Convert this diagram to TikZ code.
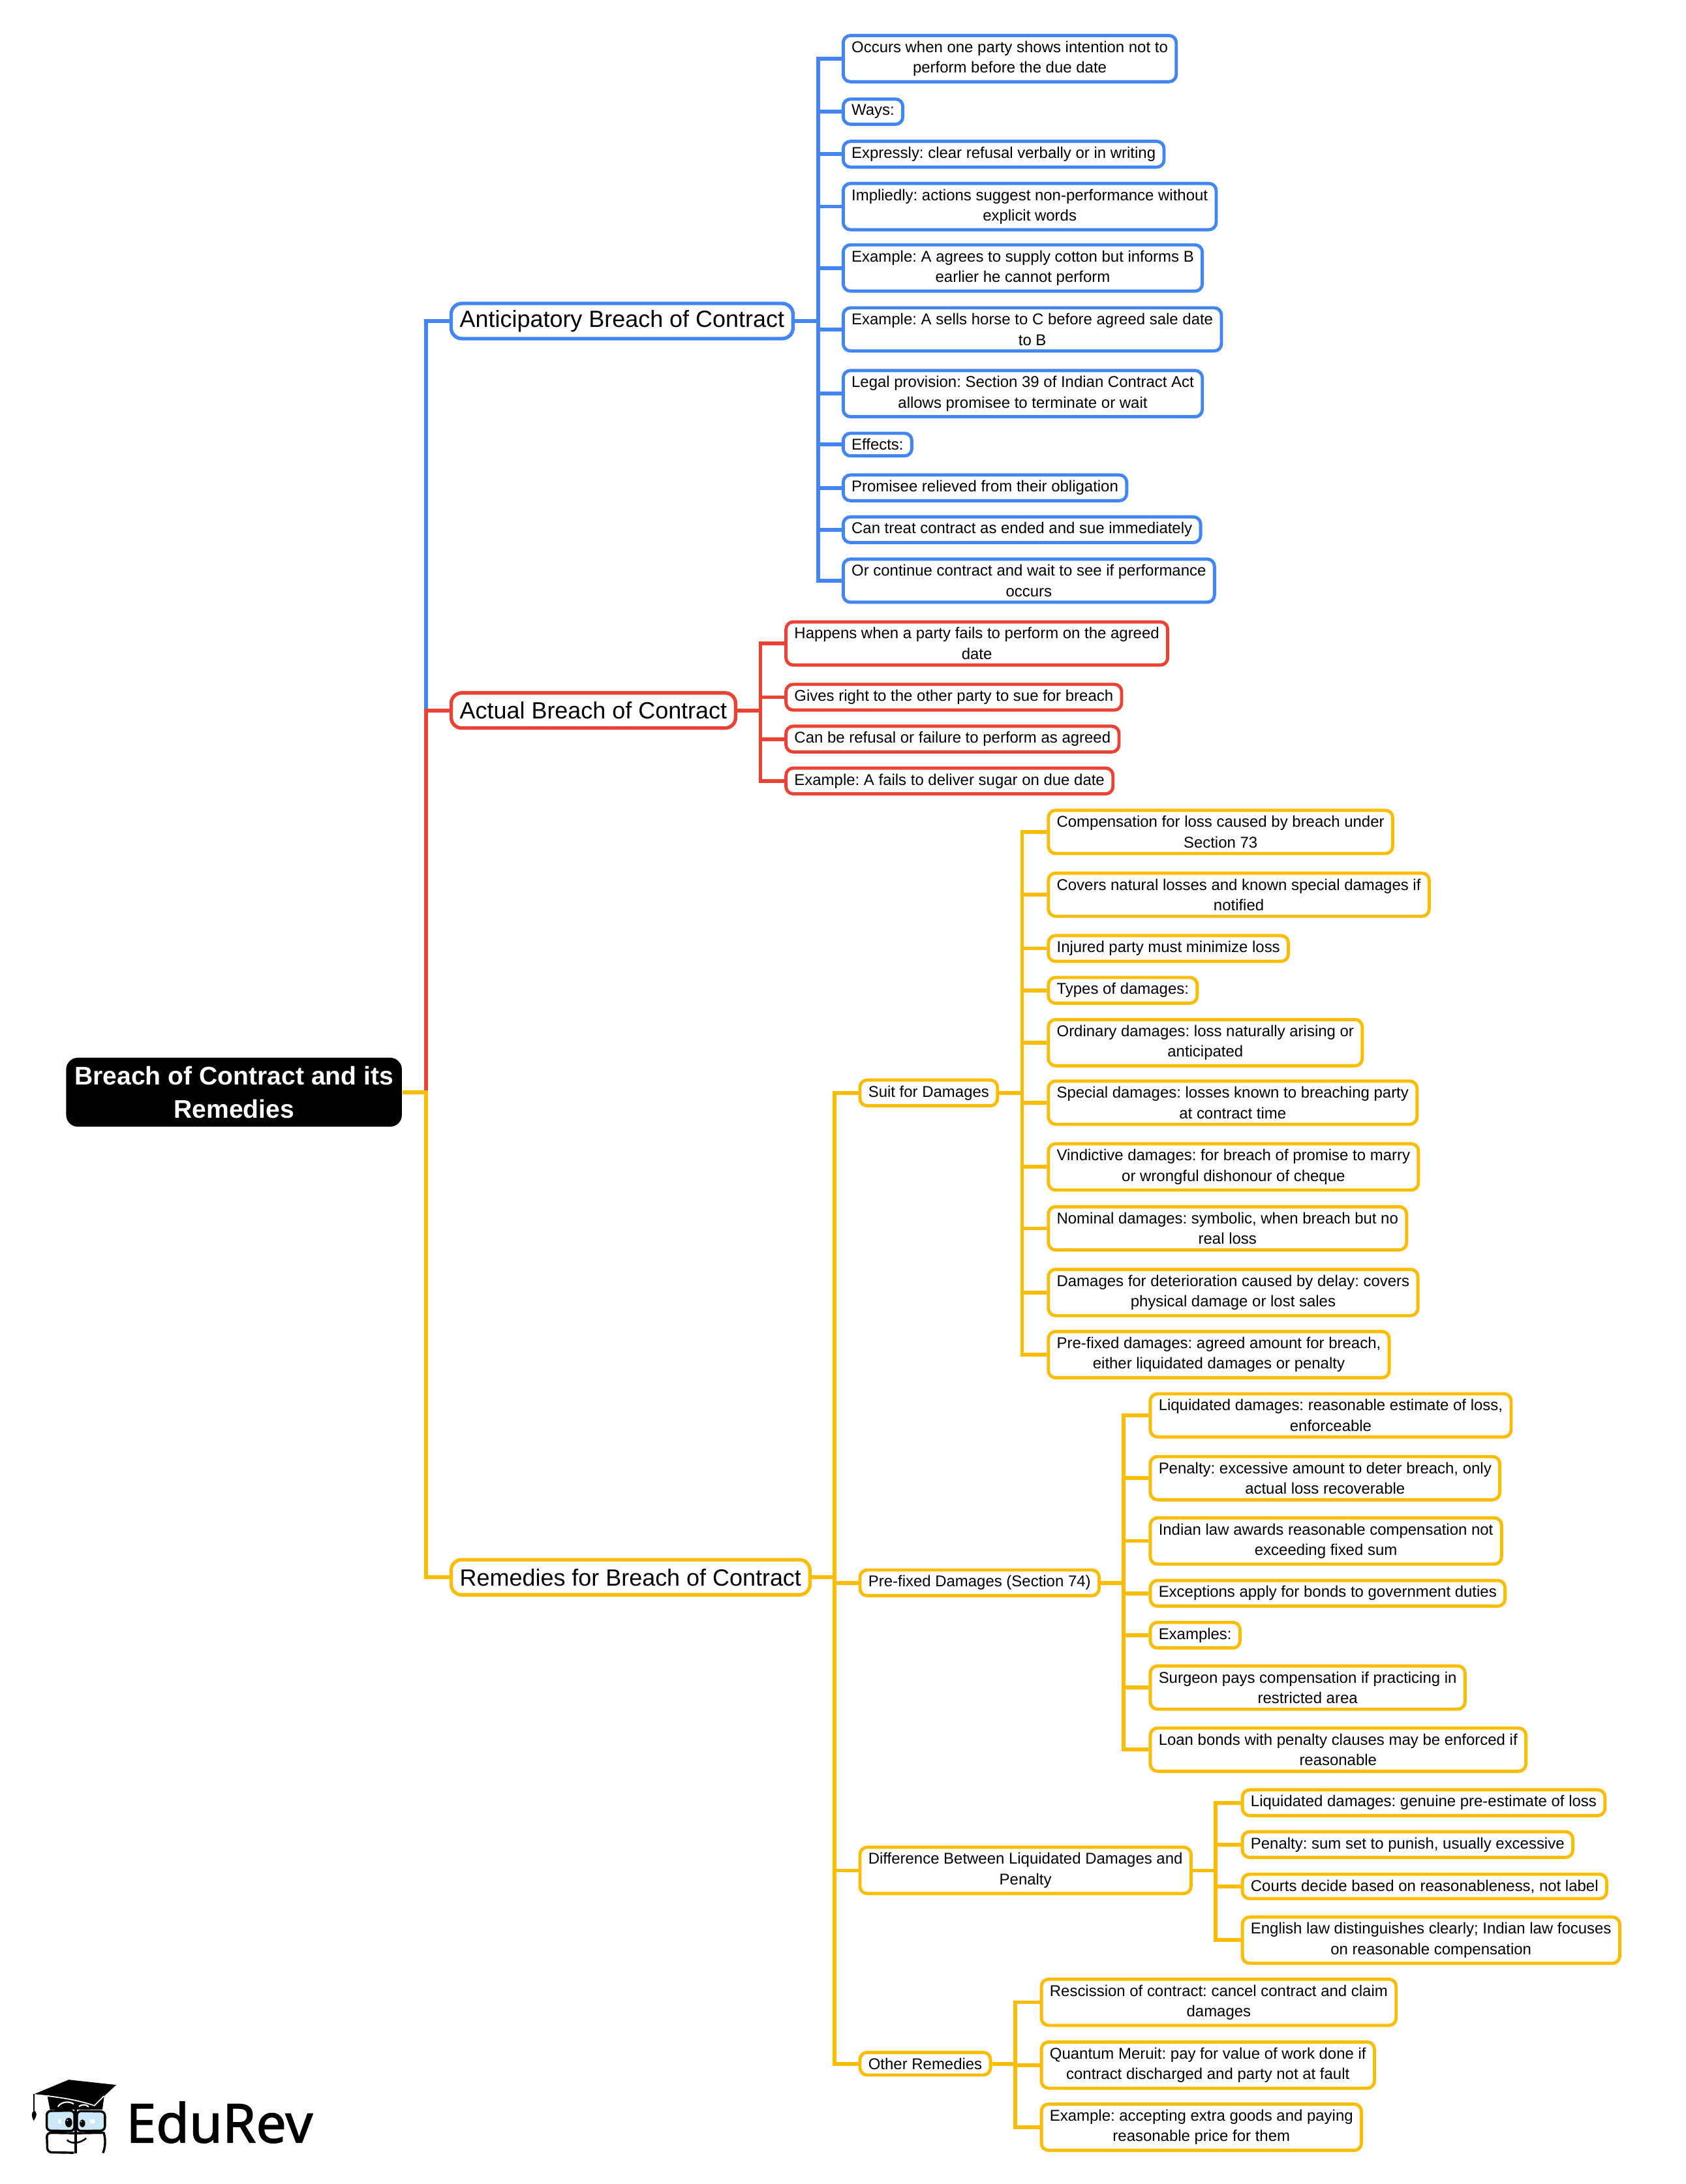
\documentclass[tikz,border=0pt]{standalone}
\usepackage{fontspec}
\setmainfont{Liberation Sans}
\newfontfamily\logofont[FakeBold=1.6]{Noto Sans}
\definecolor{mapblue}{HTML}{4285F4}
\definecolor{mapred}{HTML}{EA4335}
\definecolor{mapyellow}{HTML}{FBBC04}
\definecolor{lenscolor}{HTML}{CDE8F8}
\tikzset{
  rootbox/.style={fill=black,text=white,rounded corners=4.2pt,anchor=west,align=center,inner xsep=3pt,inner ysep=3pt,
    font=\fontsize{9.14pt}{12pt}\selectfont\bfseries\frenchspacing},
  midbox/.style={draw=#1,line width=1.25pt,fill=white,rounded corners=3.8pt,anchor=west,inner xsep=3.1pt,inner ysep=1pt,minimum height=12.6pt,
    font=\fontsize{8.4pt}{10pt}\selectfont\frenchspacing},
  leafbox/.style={draw=#1,line width=1.15pt,fill=white,rounded corners=2.6pt,anchor=west,align=center,inner xsep=3pt,inner ysep=2pt,
    font=\fontsize{5.6pt}{7.35pt}\selectfont\frenchspacing},
  maplink/.style={draw=#1,line width=1.35pt}
}
\begin{document}
\begin{tikzpicture}[x=0.5pt,y=-0.5pt]
\useasboundingbox (0,0) rectangle (1208,1564.7);
\node[rootbox] (root) at (47,782.5) {Breach of Contract and its\\Remedies};
\node[midbox=mapblue] (anticip) at (322,230) {Anticipatory Breach of Contract};
\node[midbox=mapred] (actual) at (322,509) {Actual Breach of Contract};
\node[midbox=mapyellow] (remedies) at (322,1130) {Remedies for Breach of Contract};
\node[leafbox=mapblue] (a1) at (603,42) {Occurs when one party shows intention not to\\perform before the due date};
\node[leafbox=mapblue] (a2) at (603,80) {Ways:};
\node[leafbox=mapblue] (a3) at (603,110.5) {Expressly: clear refusal verbally or in writing};
\node[leafbox=mapblue] (a4) at (603,148) {Impliedly: actions suggest non-performance without\\explicit words};
\node[leafbox=mapblue] (a5) at (603,192) {Example: A agrees to supply cotton but informs B\\earlier he cannot perform};
\node[leafbox=mapblue] (a6) at (603,236) {Example: A sells horse to C before agreed sale date\\to B};
\node[leafbox=mapblue] (a7) at (603,282) {Legal provision: Section 39 of Indian Contract Act\\allows promisee to terminate or wait};
\node[leafbox=mapblue] (a8) at (603,318.5) {Effects:};
\node[leafbox=mapblue] (a9) at (603,349.5) {Promisee relieved from their obligation};
\node[leafbox=mapblue] (a10) at (603,379.5) {Can treat contract as ended and sue immediately};
\node[leafbox=mapblue] (a11) at (603,416) {Or continue contract and wait to see if performance\\occurs};
\node[leafbox=mapred] (b1) at (562,461) {Happens when a party fails to perform on the agreed\\date};
\node[leafbox=mapred] (b2) at (562,499.5) {Gives right to the other party to sue for breach};
\node[leafbox=mapred] (b3) at (562,529.5) {Can be refusal or failure to perform as agreed};
\node[leafbox=mapred] (b4) at (562,559.5) {Example: A fails to deliver sugar on due date};
\node[leafbox=mapyellow] (suit) at (615,783) {Suit for Damages};
\node[leafbox=mapyellow] (fixed) at (615,1134) {Pre-fixed Damages (Section 74)};
\node[leafbox=mapyellow] (diff) at (615,1340) {Difference Between Liquidated Damages and\\Penalty};
\node[leafbox=mapyellow] (other) at (615,1478.5) {Other Remedies};
\node[leafbox=mapyellow] (c1) at (750,596) {Compensation for loss caused by breach under\\Section 73};
\node[leafbox=mapyellow] (c2) at (750,641) {Covers natural losses and known special damages if\\notified};
\node[leafbox=mapyellow] (c3) at (750,679.5) {Injured party must minimize loss};
\node[leafbox=mapyellow] (c4) at (750,709.5) {Types of damages:};
\node[leafbox=mapyellow] (c5) at (750,747) {Ordinary damages: loss naturally arising or\\anticipated};
\node[leafbox=mapyellow] (c6) at (750,790) {Special damages: losses known to breaching party\\at contract time};
\node[leafbox=mapyellow] (c7) at (750,836) {Vindictive damages: for breach of promise to marry\\or wrongful dishonour of cheque};
\node[leafbox=mapyellow] (c8) at (750,880) {Nominal damages: symbolic, when breach but no\\real loss};
\node[leafbox=mapyellow] (c9) at (750,926) {Damages for deterioration caused by delay: covers\\physical damage or lost sales};
\node[leafbox=mapyellow] (c10) at (750,970.5) {Pre-fixed damages: agreed amount for breach,\\either liquidated damages or penalty};
\node[leafbox=mapyellow] (d1) at (823,1014) {Liquidated damages: reasonable estimate of loss,\\enforceable};
\node[leafbox=mapyellow] (d2) at (823,1059) {Penalty: excessive amount to deter breach, only\\actual loss recoverable};
\node[leafbox=mapyellow] (d3) at (823,1104) {Indian law awards reasonable compensation not\\exceeding fixed sum};
\node[leafbox=mapyellow] (d4) at (823,1141.5) {Exceptions apply for bonds to government duties};
\node[leafbox=mapyellow] (d5) at (823,1171.5) {Examples:};
\node[leafbox=mapyellow] (d6) at (823,1209) {Surgeon pays compensation if practicing in\\restricted area};
\node[leafbox=mapyellow] (d7) at (823,1253.5) {Loan bonds with penalty clauses may be enforced if\\reasonable};
\node[leafbox=mapyellow] (e1) at (889,1291.5) {Liquidated damages: genuine pre-estimate of loss};
\node[leafbox=mapyellow] (e2) at (889,1321.5) {Penalty: sum set to punish, usually excessive};
\node[leafbox=mapyellow] (e3) at (889,1351.5) {Courts decide based on reasonableness, not label};
\node[leafbox=mapyellow] (e4) at (889,1390) {English law distinguishes clearly; Indian law focuses\\on reasonable compensation};
\node[leafbox=mapyellow] (f1) at (745,1434.5) {Rescission of contract: cancel contract and claim\\damages};
\node[leafbox=mapyellow] (f2) at (745,1479.5) {Quantum Meruit: pay for value of work done if\\contract discharged and party not at fault};
\node[leafbox=mapyellow] (f3) at (745,1524) {Example: accepting extra goods and paying\\reasonable price for them};
\draw[maplink=mapblue] (root.east) -- ++(17,0) |- (anticip.west);
\draw[maplink=mapred] (root.east) -- ++(17,0) |- (actual.west);
\draw[maplink=mapyellow] (root.east) -- ++(17,0) |- (remedies.west);
\foreach \n in {1,...,11} \draw[maplink=mapblue] (anticip.east) -- ++(17,0) |- (a\n.west);
\foreach \n in {1,...,4} \draw[maplink=mapred] (actual.east) -- ++(16.5,0) |- (b\n.west);
\foreach \n in {suit,fixed,diff,other} \draw[maplink=mapyellow] (remedies.east) -- ++(16.5,0) |- (\n.west);
\foreach \n in {1,...,10} \draw[maplink=mapyellow] (suit.east) -- ++(16.5,0) |- (c\n.west);
\foreach \n in {1,...,7} \draw[maplink=mapyellow] (fixed.east) -- ++(16.5,0) |- (d\n.west);
\foreach \n in {1,...,4} \draw[maplink=mapyellow] (diff.east) -- ++(16.5,0) |- (e\n.west);
\foreach \n in {1,...,3} \draw[maplink=mapyellow] (other.east) -- ++(16.5,0) |- (f\n.west);
% logo
\node[anchor=base west,inner sep=0pt,font=\logofont\fontsize{19.3pt}{20pt}\selectfont] (logotext) at (90,1535) {EduRev};
\begin{scope}[shift={(0,1449.3)},x=0.0895pt,y=-0.0779pt]
\fill[black] (190,338) -- (200,398) -- (410,398) -- (417,338) -- cycle;
\draw[white,line width=0.5pt] (232,385) .. controls (245,362) and (275,358) .. (295,372);
\draw[white,line width=0.5pt] (316,384) .. controls (325,375) and (345,372) .. (355,386);
\fill[black] (137,327) -- (275,261) -- (465,285) -- (378,378) .. controls (300,350) and (220,335) .. (137,327) -- cycle;
\draw[white,line width=0.4pt] (190,336) .. controls (260,345) and (320,358) .. (378,380) -- (416,336);
\draw[black,line width=0.45pt] (137,327) -- (137,405);
\fill[black] (137,403) .. controls (125,412) and (124,425) .. (135,450) .. controls (148,425) and (150,412) .. (137,403) -- cycle;
\draw[black,line width=0.8pt,fill=lenscolor,rounded corners=1.5pt] (187,405) -- (298,403) -- (298,497) -- (187,495) -- cycle;
\draw[black,line width=0.8pt,fill=lenscolor,rounded corners=1.5pt] (308,405) -- (420,407) -- (420,495) -- (308,497) -- cycle;
\draw[black,line width=0.8pt,rounded corners=1.5pt] (296,597) -- (190,595) -- (187,505) -- (298,507);
\draw[black,line width=0.8pt] (308,507) -- (415,505) .. controls (423,530) and (423,570) .. (412,598);
\draw[black,line width=1pt] (303,400) -- (303,600);
\fill[black] (275,458) ellipse (14 and 22);
\fill[black] (330,462) ellipse (11 and 18);
\fill[white] (270,448) circle (3);
\fill[white] (325,454) circle (3);
\fill[white] (232,444) rectangle (246,462);
\fill[white] (361,444) rectangle (380,462);
\draw[black,line width=0.6pt] (268,538) .. controls (285,558) and (320,555) .. (345,530);
\end{scope}
\end{tikzpicture}
\end{document}
